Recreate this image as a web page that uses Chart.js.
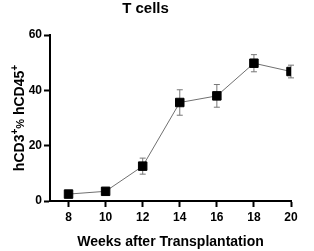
<!DOCTYPE html>
<html>
<head>
<meta charset="utf-8">
<script src="https://cdn.jsdelivr.net/npm/chart.js@4"></script>
<style>
  html, body { margin: 0; padding: 0; background: #fff; }
  #wrap { width: 314px; height: 251px; }
</style>
</head>
<body>
<div id="wrap"><canvas id="tChart"></canvas></div>
<script>
const weeks = [8, 10, 12, 14, 16, 18, 20];
const meanPct = [2.5, 3.5, 12.6, 35.6, 38.0, 49.8, 46.8];
const semPct = [0.5, 0.8, 2.9, 4.6, 4.1, 3.1, 2.3];
const xTicks = [8, 10, 12, 14, 16, 18, 20];
const yTicks = [0, 20, 40, 60];
// y title pieces: [text, size, raise]
const yTitleParts = [['hCD3', 14, 0], ['+', 10, 6], ['%', 11, 0], [' hCD45', 14, 0], ['+', 10, 6]];

const fam = 'Liberation Sans, Arial, sans-serif';

const errorBars = {
  id: 'errorBars',
  beforeDatasetsDraw(chart) {
    const ctx = chart.ctx;
    const x = chart.scales.x, y = chart.scales.y;
    ctx.save();
    ctx.strokeStyle = '#777';
    ctx.lineWidth = 1;
    weeks.forEach((w, i) => {
      const px = x.getPixelForValue(w);
      const top = y.getPixelForValue(meanPct[i] + semPct[i]);
      const bot = y.getPixelForValue(meanPct[i] - semPct[i]);
      ctx.beginPath();
      ctx.moveTo(px, top); ctx.lineTo(px, bot);
      ctx.moveTo(px - 3, top); ctx.lineTo(px + 3, top);
      ctx.moveTo(px - 3, bot); ctx.lineTo(px + 3, bot);
      ctx.stroke();
    });
    ctx.restore();
  }
};

// y axis title with real superscripts
const yTitle = {
  id: 'yTitle',
  afterDraw(chart) {
    const ctx = chart.ctx;
    const area = chart.chartArea;
    ctx.save();
    ctx.fillStyle = '#000';
    ctx.textBaseline = 'alphabetic';
    let total = 0;
    yTitleParts.forEach(p => {
      ctx.font = 'bold ' + p[1] + 'px ' + fam;
      total += ctx.measureText(p[0]).width;
    });
    ctx.translate(24, (area.top + area.bottom) / 2);
    ctx.rotate(-Math.PI / 2);
    let pos = -total / 2;
    yTitleParts.forEach(p => {
      ctx.font = 'bold ' + p[1] + 'px ' + fam;
      ctx.fillText(p[0], pos, -p[2]);
      pos += ctx.measureText(p[0]).width;
    });
    ctx.restore();
  }
};

const font = { family: fam, weight: 'bold' };

const ctx = document.getElementById('tChart').getContext('2d');
const tChart = new Chart(ctx, {
  type: 'line',
  data: {
    datasets: [{
      data: weeks.map((w, i) => ({ x: w, y: meanPct[i] })),
      borderColor: '#707070',
      borderWidth: 1,
      pointStyle: 'rect',
      pointRadius: 6,
      pointBackgroundColor: '#000',
      pointBorderColor: '#000',
      pointBorderWidth: 1,
      tension: 0
    }]
  },
  options: {
    responsive: true,
    maintainAspectRatio: false,
    animation: false,
    layout: { padding: { left: 0, right: 23, top: 0, bottom: 0 } },
    scales: {
      x: {
        type: 'linear',
        min: 7,
        max: 20,
        afterBuildTicks: s => { s.ticks = xTicks.map(v => ({ value: v })); },
        afterFit: s => { s.height = 50; },
        border: { color: '#000', width: 2 },
        grid: { drawOnChartArea: false, tickLength: 6, tickColor: '#000', tickWidth: 2 },
        ticks: { color: '#000', padding: 3, font: { ...font, size: 12 } },
        title: { display: true, text: 'Weeks after Transplantation', color: '#000', padding: 0, font: { ...font, size: 14 } }
      },
      y: {
        min: 0,
        max: 60,
        afterBuildTicks: s => { s.ticks = yTicks.map(v => ({ value: v })); },
        afterFit: s => { s.width = 50; },
        border: { color: '#000', width: 2 },
        grid: { drawOnChartArea: false, tickLength: 6, tickColor: '#000', tickWidth: 2 },
        ticks: { color: '#000', padding: 2, font: { ...font, size: 12 } }
      }
    },
    plugins: {
      legend: { display: false },
      tooltip: { enabled: false },
      title: {
        display: true,
        text: 'T cells',
        color: '#000',
        padding: { top: 0, bottom: 17 },
        font: { ...font, size: 15 }
      }
    }
  },
  plugins: [errorBars, yTitle]
});
</script>
</body>
</html>
